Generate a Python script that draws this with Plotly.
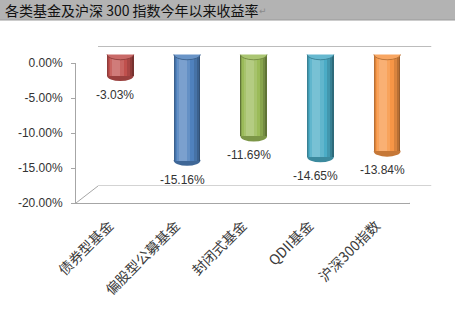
import plotly.graph_objects as go

# ---- data ----
categories = ["债券型基金", "偏股型公募基金", "封闭式基金", "QDII基金", "沪深300指数"]
values = [-3.03, -15.16, -11.69, -14.65, -13.84]
ytick_vals = [0, -5, -10, -15, -20]
ytick_text = ["0.00%", "-5.00%", "-10.00%", "-15.00%", "-20.00%"]
title_text = "各类基金及沪深 300 指数今年以来收益率"

# ---- styles ----
palette = ["#C0504D", "#4F81BD", "#9BBB59", "#4BACC6", "#F79646"]
W, H = 455, 309
FX0, FX1, FY0, FY1 = 76, 409.5, 63, 203   # front plane in pixels
DX, DY = 22, 17                            # 3D depth offset (back plane)
AXC = "#a6a6a6"
TB = "#b3b3b3"


def mix(hexc, other, t):
    h = hexc.lstrip("#")
    o = other.lstrip("#")
    c = [int(h[i:i + 2], 16) for i in (0, 2, 4)]
    d = [int(o[i:i + 2], 16) for i in (0, 2, 4)]
    r = [round(c[k] * (1 - t) + d[k] * t) for k in range(3)]
    return "#%02x%02x%02x" % tuple(r)


def xdom(dx):
    return [(FX0 + dx) / W, (FX1 + dx) / W]


def ydom(dy):
    return [1 - (FY1 - dy) / H, 1 - (FY0 - dy) / H]


xr = [-0.5, len(categories) - 0.5]
yr = [-20, 0]
xs = list(range(len(categories)))

fig = go.Figure()

# cylinder-like bars built from layered bars (middle depth plane)
layers = [
    (0.40, 0.0, lambda c: mix(c, "#000000", 0.38)),
    (0.37, -0.01, lambda c: mix(c, "#000000", 0.25)),
    (0.33, -0.02, lambda c: mix(c, "#000000", 0.12)),
    (0.27, -0.035, lambda c: c),
    (0.20, -0.05, lambda c: mix(c, "#ffffff", 0.12)),
    (0.12, -0.06, lambda c: mix(c, "#ffffff", 0.25)),
]
for w, off, f in layers:
    fig.add_trace(go.Bar(
        x=xs, y=values, width=w, offset=-w / 2 + off,
        marker=dict(color=[f(c) for c in palette], line=dict(width=0)),
        xaxis="x2", yaxis="y2", opacity=1, hoverinfo="skip", showlegend=False,
    ))

shapes = []
EH = 0.75
for i, v in enumerate(values):
    c = palette[i]
    shapes.append(dict(type="circle", xref="x2", yref="y2", layer="below",
                       x0=i - 0.2, x1=i + 0.2, y0=v - EH, y1=v + EH,
                       fillcolor=mix(c, "#000000", 0.2), line=dict(width=0)))
    shapes.append(dict(type="circle", xref="x2", yref="y2", layer="above",
                       x0=i - 0.2, x1=i + 0.2, y0=-EH, y1=EH,
                       fillcolor=mix(c, "#ffffff", 0.15),
                       line=dict(width=0.8, color=mix(c, "#000000", 0.3))))

# back wall / floor lines
shapes.append(dict(type="line", xref="x3", yref="y3", x0=xr[0], x1=xr[1], y0=0, y1=0,
                   line=dict(color=AXC, width=1.5)))
shapes.append(dict(type="line", xref="x3", yref="y3", x0=xr[0], x1=xr[1], y0=yr[0], y1=yr[0],
                   line=dict(color=AXC, width=1)))
for xa in xr:
    shapes.append(dict(type="line", xref="x", yref="y", xsizemode="pixel", ysizemode="pixel",
                       xanchor=xa, yanchor=yr[0], x0=0, x1=DX, y0=0, y1=DY,
                       line=dict(color=AXC, width=1)))

# title bar + bottom edge
shapes.append(dict(type="rect", xref="paper", yref="paper", x0=0, x1=1, y0=1 - 20 / H, y1=1,
                   fillcolor=TB, line=dict(width=0), layer="below"))
shapes.append(dict(type="line", xref="paper", yref="paper", x0=0, x1=1, y0=1 - 20 / H, y1=1 - 20 / H,
                   line=dict(width=1, color="#9a9a9a"), layer="above"))

annotations = [dict(xref="paper", yref="paper", x=3 / W, y=1 - 10 / H, xanchor="left", yanchor="middle",
                    text=title_text, showarrow=False,
                    font=dict(family="Noto Sans CJK SC", size=14, color="#111111")),
               dict(xref="paper", yref="paper", x=263 / W, y=1 - 11 / H, xanchor="center", yanchor="middle",
                    text="↵", showarrow=False,
                    font=dict(family="DejaVu Sans", size=9, color="#8a8a8a"))]
for i, v in enumerate(values):
    annotations.append(dict(xref="x2", yref="y2", x=i, y=v, yanchor="top", xanchor="center",
                            yshift=-10, xshift=-5, showarrow=False, text=f"{v:.2f}%",
                            font=dict(family="Liberation Sans, Arial", size=12, color="#333333")))

fig.update_layout(
    width=W, height=H, template="none",
    margin=dict(l=0, r=0, t=0, b=0),
    paper_bgcolor="white", plot_bgcolor="rgba(0,0,0,0)",
    barmode="overlay", bargap=0,
    showlegend=False,
    modebar=dict(bgcolor="rgba(0,0,0,0)", color="rgba(0,0,0,0)", activecolor="rgba(0,0,0,0)"),
    shapes=shapes, annotations=annotations,
    xaxis=dict(domain=xdom(0), range=xr, anchor="y", showline=True, linecolor=AXC, linewidth=1,
               tickvals=xs, ticktext=categories, tickangle=-45, ticks="", showgrid=False,
               zeroline=False, automargin=False, ticklabelstandoff=8,
               tickfont=dict(family="Noto Sans CJK SC", size=14, color="#3a3a3a")),
    xaxis4=dict(overlaying="x", anchor="y", side="top", range=xr, showline=True, linecolor=AXC,
                linewidth=1, ticks="inside", ticklen=4, tickcolor=AXC,
                tickvals=[x - 0.5 for x in xs] + [xr[1]], showticklabels=False, showgrid=False,
                zeroline=False, layer="below traces", automargin=False),
    yaxis=dict(domain=ydom(0), range=yr, anchor="x", showline=True, linecolor=AXC, linewidth=1,
               ticks="outside", ticklen=4, tickcolor=AXC, tickvals=ytick_vals, ticktext=ytick_text,
               showgrid=False, zeroline=False, automargin=False, ticklabelstandoff=6,
               tickfont=dict(family="Liberation Sans, Arial", size=12, color="#333333")),
    xaxis2=dict(domain=xdom(DX / 2), range=xr, anchor="y2", visible=False),
    yaxis2=dict(domain=ydom(DY / 2), range=yr, anchor="x2", visible=False),
    xaxis3=dict(domain=xdom(DX), range=xr, anchor="y3", visible=False),
    yaxis3=dict(domain=ydom(DY), range=yr, anchor="x3", visible=False),
)

fig.write_html("out.html", config={"displayModeBar": False, "staticPlot": True})
